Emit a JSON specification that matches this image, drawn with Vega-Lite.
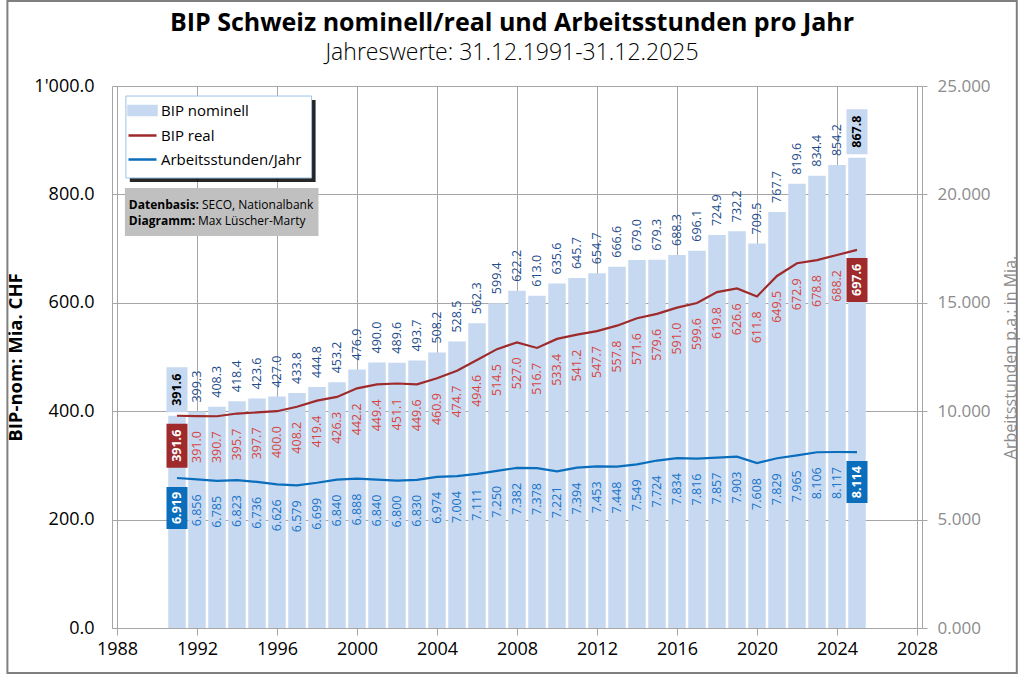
{
  "$schema": "https://vega.github.io/schema/vega-lite/v6.json",
  "width": 810,
  "height": 542,
  "autosize": "none",
  "padding": {"left": 112, "top": 86, "right": 102, "bottom": 46},
  "background": "white",
  "title": {
    "text": "BIP Schweiz nominell/real und Arbeitsstunden pro Jahr",
    "subtitle": "Jahreswerte: 31.12.1991-31.12.2025",
    "anchor": "middle",
    "frame": "group",
    "dx": -5,
    "offset": -65,
    "font": "Open Sans",
    "fontSize": 25,
    "fontWeight": "bold",
    "color": "black",
    "subtitleFont": "Open Sans",
    "subtitleFontSize": 23,
    "subtitleFontWeight": 300,
    "subtitleColor": "black",
    "subtitlePadding": 6
  },
  "data": {
    "values": [
      {"year": 1991, "nom": 391.6, "real": 391.6, "hours": 6.919},
      {"year": 1992, "nom": 399.3, "real": 391.0, "hours": 6.856},
      {"year": 1993, "nom": 408.3, "real": 390.7, "hours": 6.785},
      {"year": 1994, "nom": 418.4, "real": 395.7, "hours": 6.823},
      {"year": 1995, "nom": 423.6, "real": 397.7, "hours": 6.736},
      {"year": 1996, "nom": 427.0, "real": 400.0, "hours": 6.626},
      {"year": 1997, "nom": 433.8, "real": 408.2, "hours": 6.579},
      {"year": 1998, "nom": 444.8, "real": 419.4, "hours": 6.699},
      {"year": 1999, "nom": 453.2, "real": 426.3, "hours": 6.840},
      {"year": 2000, "nom": 476.9, "real": 442.2, "hours": 6.888},
      {"year": 2001, "nom": 490.0, "real": 449.4, "hours": 6.840},
      {"year": 2002, "nom": 489.6, "real": 451.1, "hours": 6.800},
      {"year": 2003, "nom": 493.7, "real": 449.6, "hours": 6.830},
      {"year": 2004, "nom": 508.2, "real": 460.9, "hours": 6.974},
      {"year": 2005, "nom": 528.5, "real": 474.7, "hours": 7.004},
      {"year": 2006, "nom": 562.3, "real": 494.6, "hours": 7.111},
      {"year": 2007, "nom": 599.4, "real": 514.5, "hours": 7.250},
      {"year": 2008, "nom": 622.2, "real": 527.0, "hours": 7.382},
      {"year": 2009, "nom": 613.0, "real": 516.7, "hours": 7.378},
      {"year": 2010, "nom": 635.6, "real": 533.4, "hours": 7.221},
      {"year": 2011, "nom": 645.7, "real": 541.2, "hours": 7.394},
      {"year": 2012, "nom": 654.7, "real": 547.7, "hours": 7.453},
      {"year": 2013, "nom": 666.6, "real": 557.8, "hours": 7.448},
      {"year": 2014, "nom": 679.0, "real": 571.6, "hours": 7.549},
      {"year": 2015, "nom": 679.3, "real": 579.6, "hours": 7.724},
      {"year": 2016, "nom": 688.3, "real": 591.0, "hours": 7.834},
      {"year": 2017, "nom": 696.1, "real": 599.6, "hours": 7.816},
      {"year": 2018, "nom": 724.9, "real": 619.8, "hours": 7.857},
      {"year": 2019, "nom": 732.2, "real": 626.6, "hours": 7.903},
      {"year": 2020, "nom": 709.5, "real": 611.8, "hours": 7.608},
      {"year": 2021, "nom": 767.7, "real": 649.5, "hours": 7.829},
      {"year": 2022, "nom": 819.6, "real": 672.9, "hours": 7.965},
      {"year": 2023, "nom": 834.4, "real": 678.8, "hours": 8.106},
      {"year": 2024, "nom": 854.2, "real": 688.2, "hours": 8.117},
      {"year": 2025, "nom": 867.8, "real": 697.6, "hours": 8.114}
    ]
  },
  "encoding": {
    "x": {
      "field": "year",
      "type": "quantitative",
      "scale": {"domain": [1988, 2028], "nice": false, "zero": false},
      "axis": {
        "title": null,
        "values": [1988, 1992, 1996, 2000, 2004, 2008, 2012, 2016, 2020, 2024, 2028],
        "format": "d",
        "grid": true,
        "gridColor": "#a6a6a6",
        "domainColor": "#a6a6a6",
        "tickColor": "#a6a6a6",
        "tickSize": 7,
        "labelFontSize": 18,
        "labelColor": "black",
        "labelPadding": 5,
        "labelFlush": false
      }
    }
  },
  "layer": [
    {
      "encoding": {
        "y": {
          "field": "nom",
          "type": "quantitative",
          "title": "BIP-nom: Mia. CHF",
          "scale": {"domain": [0, 1000], "nice": false},
          "axis": {
            "orient": "left",
            "values": [0, 200, 400, 600, 800, 1000],
            "labelExpr": "datum.value == 1000 ? \"1'000.0\" : format(datum.value, '.1f')",
            "grid": true,
            "gridColor": "#a6a6a6",
            "domainColor": "#a6a6a6",
            "ticks": false,
            "labelFontSize": 18,
            "labelColor": "black",
            "labelPadding": 18,
            "titleFontSize": 18.5,
            "titleFontWeight": "bold",
            "titleColor": "black",
            "titleAngle": 270,
            "titleBaseline": "middle",
            "titleAlign": "center",
            "titleX": -97,
            "titleY": 271
          }
        }
      },
      "layer": [
        {
          "transform": [{"filter": "datum.year == 1991"}],
          "mark": {"type": "rect", "fill": "transparent", "stroke": "#7f7f7f", "strokeWidth": 2},
          "encoding": {
            "x": {"datum": 1982.52, "type": "quantitative"},
            "x2": {"datum": 2032.99},
            "y": {"datum": 1156.8, "type": "quantitative"},
            "y2": {"datum": -83.0}
          }
        },
        {
          "mark": {"type": "bar", "width": 17.5},
          "encoding": {
            "color": {
              "datum": "BIP nominell",
              "type": "nominal",
              "scale": {
                "domain": ["BIP nominell", "BIP real", "Arbeitsstunden/Jahr"],
                "range": ["#c6d9f1", "#9e2a2b", "#0a6ebd"]
              },
              "legend": {
                "title": null,
                "orient": "none",
                "legendX": 15,
                "legendY": 9,
                "padding": 0,
                "rowPadding": 0,
                "symbolSize": 784,
                "labelFontSize": 15,
                "labelColor": "black",
                "labelOffset": 3,
                "labelFont": "Open Sans",
                "encode": {
                  "symbols": {
                    "update": {
                      "shape": {"signal": "datum.value === 'BIP nominell' ? 'M-1,-0.32L1,-0.32L1,0.32L-1,0.32Z' : 'stroke'"},
                      "fill": {"signal": "datum.value === 'BIP nominell' ? '#c6d9f1' : 'transparent'"},
                      "stroke": {"signal": "datum.value === 'BIP nominell' ? 'transparent' : (datum.value === 'BIP real' ? '#9e2a2b' : '#0a6ebd')"},
                      "strokeWidth": {"value": 2.5},
                      "opacity": {"value": 1}
                    }
                  }
                }
              }
            }
          }
        },
        {
          "transform": [{"filter": "datum.year == 1991"}],
          "mark": {"type": "rect", "fill": "#000000", "opacity": 0.85},
          "encoding": {
            "x": {"datum": 1988.64, "type": "quantitative"},
            "x2": {"datum": 1997.93},
            "y": {"datum": 974.0, "type": "quantitative"},
            "y2": {"datum": 823.0}
          }
        },
        {
          "transform": [{"filter": "datum.year == 1991"}],
          "mark": {"type": "rect", "fill": "white", "stroke": "#9dc3e6", "strokeWidth": 1},
          "encoding": {
            "x": {"datum": 1988.444, "type": "quantitative"},
            "x2": {"datum": 1997.728},
            "y": {"datum": 981.5, "type": "quantitative"},
            "y2": {"datum": 830.3}
          }
        },
        {
          "transform": [{"filter": "datum.year == 1991"}],
          "mark": {"type": "rect", "fill": "#c0c0c0"},
          "encoding": {
            "x": {"datum": 1988.395, "type": "quantitative"},
            "x2": {"datum": 1998.074},
            "y": {"datum": 811.8, "type": "quantitative"},
            "y2": {"datum": 723.2}
          }
        },
        {
          "transform": [{"filter": "datum.year == 1991"}],
          "mark": {"type": "text", "align": "left", "baseline": "middle", "fontSize": 12, "fontWeight": "bold", "color": "black", "text": "Datenbasis:"},
          "encoding": {"x": {"datum": 1988.593, "type": "quantitative"}, "y": {"datum": 780.4, "type": "quantitative"}}
        },
        {
          "transform": [{"filter": "datum.year == 1991"}],
          "mark": {"type": "text", "align": "left", "baseline": "middle", "fontSize": 12, "color": "black", "text": "SECO, Nationalbank"},
          "encoding": {"x": {"datum": 1992.247, "type": "quantitative"}, "y": {"datum": 780.4, "type": "quantitative"}}
        },
        {
          "transform": [{"filter": "datum.year == 1991"}],
          "mark": {"type": "text", "align": "left", "baseline": "middle", "fontSize": 12, "fontWeight": "bold", "color": "black", "text": "Diagramm:"},
          "encoding": {"x": {"datum": 1988.593, "type": "quantitative"}, "y": {"datum": 751.0, "type": "quantitative"}}
        },
        {
          "transform": [{"filter": "datum.year == 1991"}],
          "mark": {"type": "text", "align": "left", "baseline": "middle", "fontSize": 12, "color": "black", "text": "Max Lüscher-Marty"},
          "encoding": {"x": {"datum": 1992.049, "type": "quantitative"}, "y": {"datum": 751.0, "type": "quantitative"}}
        },
        {
          "mark": {"type": "line", "strokeWidth": 2.2},
          "encoding": {
            "y": {"field": "real", "type": "quantitative", "title": "BIP-nom: Mia. CHF"},
            "color": {
              "datum": "BIP real",
              "type": "nominal",
              "scale": {
                "domain": ["BIP nominell", "BIP real", "Arbeitsstunden/Jahr"],
                "range": ["#c6d9f1", "#9e2a2b", "#0a6ebd"]
              }
            }
          }
        },
        {
          "transform": [{"filter": "datum.year > 1991 && datum.year < 2025"}],
          "mark": {"type": "text", "angle": 270, "align": "left", "baseline": "middle", "dx": 9, "fontSize": 12.5, "color": "#1f4e8c"},
          "encoding": {"text": {"field": "nom", "type": "quantitative", "format": ".1f"}}
        },
        {
          "transform": [{"filter": "datum.year == 1991 || datum.year == 2025"}],
          "mark": {"type": "point", "shape": "M-1.05,-0.35L1.05,-0.35L1.05,-4.85L-1.05,-4.85Z", "size": 400, "filled": true, "color": "#c6d9f1", "opacity": 1, "strokeWidth": 0}
        },
        {
          "transform": [{"filter": "datum.year == 1991 || datum.year == 2025"}],
          "mark": {"type": "text", "angle": 270, "align": "center", "baseline": "middle", "dx": 26, "fontSize": 12.5, "fontWeight": "bold", "color": "black"},
          "encoding": {"text": {"field": "nom", "type": "quantitative", "format": ".1f"}}
        },
        {
          "transform": [{"filter": "datum.year > 1991 && datum.year < 2025"}],
          "mark": {"type": "text", "angle": 270, "align": "right", "baseline": "middle", "dx": -15, "fontSize": 12.5, "color": "#d64541"},
          "encoding": {
            "y": {"field": "real", "type": "quantitative", "title": "BIP-nom: Mia. CHF"},
            "text": {"field": "real", "type": "quantitative", "format": ".1f"}
          }
        },
        {
          "transform": [{"filter": "datum.year == 1991 || datum.year == 2025"}],
          "mark": {"type": "point", "shape": "M-1.05,0.8L1.05,0.8L1.05,5.2L-1.05,5.2Z", "size": 400, "filled": true, "color": "#9e2a2b", "opacity": 1, "strokeWidth": 0},
          "encoding": {"y": {"field": "real", "type": "quantitative", "title": "BIP-nom: Mia. CHF"}}
        },
        {
          "transform": [{"filter": "datum.year == 1991 || datum.year == 2025"}],
          "mark": {"type": "text", "angle": 270, "align": "center", "baseline": "middle", "dx": -30, "fontSize": 12.5, "fontWeight": "bold", "color": "white"},
          "encoding": {
            "y": {"field": "real", "type": "quantitative", "title": "BIP-nom: Mia. CHF"},
            "text": {"field": "real", "type": "quantitative", "format": ".1f"}
          }
        }
      ]
    },
    {
      "encoding": {
        "y": {
          "field": "hours",
          "type": "quantitative",
          "title": "Arbeitsstunden p.a.: in Mia.",
          "scale": {"domain": [0, 25], "nice": false},
          "axis": {
            "orient": "right",
            "values": [0, 5, 10, 15, 20, 25],
            "format": ".3f",
            "grid": false,
            "domainColor": "#a6a6a6",
            "tickColor": "#a6a6a6",
            "tickSize": 5,
            "labelFontSize": 17,
            "labelColor": "#8c8c8c",
            "labelPadding": 10,
            "titleFontSize": 16,
            "titleFontWeight": "normal",
            "titleColor": "#8c8c8c",
            "titleAngle": 270,
            "titleBaseline": "middle",
            "titleAlign": "center",
            "titleX": 88,
            "titleY": 271
          }
        }
      },
      "layer": [
        {
          "mark": {"type": "line", "strokeWidth": 2.2},
          "encoding": {
            "color": {
              "datum": "Arbeitsstunden/Jahr",
              "type": "nominal",
              "scale": {
                "domain": ["BIP nominell", "BIP real", "Arbeitsstunden/Jahr"],
                "range": ["#c6d9f1", "#9e2a2b", "#0a6ebd"]
              }
            }
          }
        },
        {
          "transform": [{"filter": "datum.year > 1991 && datum.year < 2025"}],
          "mark": {"type": "text", "angle": 270, "align": "right", "baseline": "middle", "dx": -15, "fontSize": 12.5, "color": "#1a73c8"},
          "encoding": {"text": {"field": "hours", "type": "quantitative", "format": ".3f"}}
        },
        {
          "transform": [{"filter": "datum.year == 1991 || datum.year == 2025"}],
          "mark": {"type": "point", "shape": "M-1.05,0.9L1.05,0.9L1.05,5.1L-1.05,5.1Z", "size": 400, "filled": true, "color": "#0a6ebd", "opacity": 1, "strokeWidth": 0}
        },
        {
          "transform": [{"filter": "datum.year == 1991 || datum.year == 2025"}],
          "mark": {"type": "text", "angle": 270, "align": "center", "baseline": "middle", "dx": -30, "fontSize": 12.5, "fontWeight": "bold", "color": "white"},
          "encoding": {"text": {"field": "hours", "type": "quantitative", "format": ".3f"}}
        }
      ]
    }
  ],
  "resolve": {"scale": {"y": "independent"}},
  "config": {
    "font": "Open Sans",
    "view": {"stroke": null},
    "axis": {"labelFont": "Open Sans", "titleFont": "Open Sans"}
  }
}
